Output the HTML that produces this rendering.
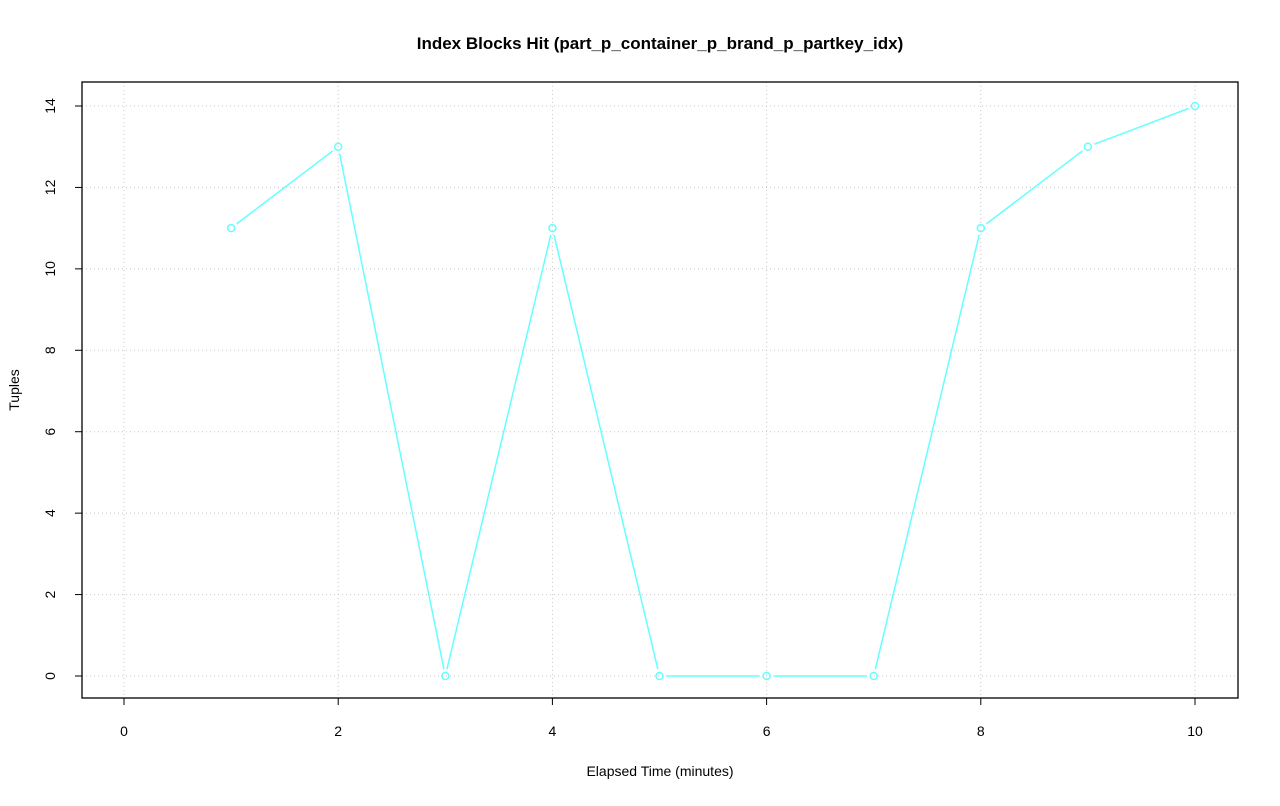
<!DOCTYPE html>
<html><head><meta charset="utf-8"><style>
body{margin:0;background:#fff;}
svg text{font-family:"Liberation Sans",Arial,sans-serif;fill:#000;}
</style></head><body>
<svg id="chart" width="1280" height="801" xmlns="http://www.w3.org/2000/svg">
<rect width="1280" height="801" fill="#fff"/>
<text x="660" y="49" text-anchor="middle" font-size="17" font-weight="bold">Index Blocks Hit (part_p_container_p_brand_p_partkey_idx)</text>
<text x="660" y="776" text-anchor="middle" font-size="14">Elapsed Time (minutes)</text>
<text transform="translate(19,390) rotate(-90)" text-anchor="middle" font-size="14">Tuples</text>
<g id="grid"></g><g id="axes"></g><g id="series"></g>
<rect x="82" y="82" width="1156" height="616" fill="none" stroke="#000" stroke-width="1.3"/>
</svg>
<script>
const xValues = [1,2,3,4,5,6,7,8,9,10];
const yValues = [11,13,0,11,0,0,0,11,13,14];
const xTicks = [0,2,4,6,8,10];
const yTicks = [0,2,4,6,8,10,12,14];
const NS = "http://www.w3.org/2000/svg";
function sx(v){return 124 + v*107.1;}
function sy(v){return 676 - v*40.714;}
function mk(tag, attrs, parent){const e=document.createElementNS(NS,tag);for(const k in attrs)e.setAttribute(k,attrs[k]);parent.appendChild(e);return e;}
const grid=document.getElementById('grid'), axes=document.getElementById('axes'), series=document.getElementById('series');
xTicks.forEach(t=>{
  const g=mk('line',{x1:sx(t),x2:sx(t),y1:82,y2:698,stroke:'#c8c8c8','stroke-dasharray':'1,3'},grid);
  
  
  const tk=mk('line',{x1:sx(t),x2:sx(t),y1:698,y2:705,stroke:'#000'},axes);
  
  
  const l=mk('text',{x:sx(t),y:736,'text-anchor':'middle','font-size':'14'},axes);
  l.textContent=t;
  
  
});
yTicks.forEach(t=>{
  const g=mk('line',{x1:82,x2:1238,y1:sy(t),y2:sy(t),stroke:'#c8c8c8','stroke-dasharray':'1,3'},grid);
  
  
  const tk=mk('line',{x1:75,x2:82,y1:sy(t),y2:sy(t),stroke:'#000'},axes);
  
  
  const l=mk('text',{transform:`translate(55,${sy(t)}) rotate(-90)`,'text-anchor':'middle','font-size':'14'},axes);
  l.textContent=t;
  
  
});
for(let i=0;i<xValues.length-1;i++){
  const x1=sx(xValues[i]),y1=sy(yValues[i]),x2=sx(xValues[i+1]),y2=sy(yValues[i+1]);
  const d=Math.hypot(x2-x1,y2-y1),g=7,ux=(x2-x1)/d,uy=(y2-y1)/d;
  const s=mk('line',{x1:x1+ux*g,y1:y1+uy*g,x2:x2-ux*g,y2:y2-uy*g,stroke:'#66ffff','stroke-width':'1.5'},series);
  
  
}
xValues.forEach((x,i)=>{
  const c=mk('circle',{cx:sx(x),cy:sy(yValues[i]),r:3.5,fill:'none',stroke:'#66ffff','stroke-width':'1.5'},series);
  
  
});
</script>
</body></html>
